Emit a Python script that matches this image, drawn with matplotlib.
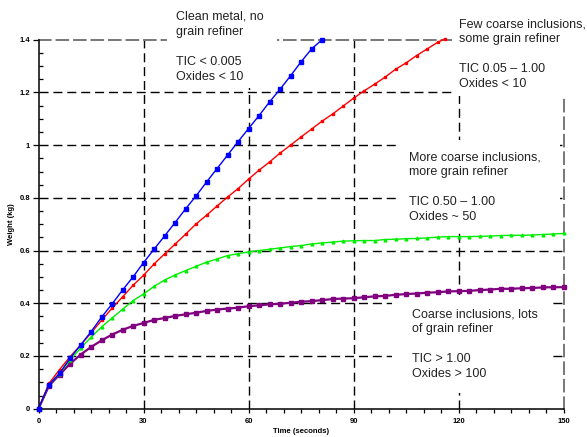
import numpy as np
import matplotlib
matplotlib.use("Agg")
import matplotlib.pyplot as plt
from matplotlib.patches import Rectangle
from matplotlib.ticker import MultipleLocator

plt.rcParams["font.family"] = ["Liberation Sans", "DejaVu Sans"]

# time axis (s), one reading every 3 s
t_blue = [0, 3, 6, 9, 12, 15, 18, 21, 24, 27, 30, 33, 36, 39, 42, 45, 48, 51, 54, 57,
          60, 63, 66, 69, 72, 75, 78, 81]
w_blue = [0, 0.091, 0.134, 0.191, 0.241, 0.292, 0.347, 0.397, 0.450, 0.500, 0.554, 0.605,
          0.655, 0.706, 0.758, 0.807, 0.860, 0.911, 0.962, 1.013, 1.063, 1.112, 1.164,
          1.212, 1.263, 1.316, 1.365, 1.400]

t_red = [0, 3, 6, 9, 12, 15, 18, 21, 24, 27, 30, 33, 36, 39, 42, 45, 48, 51, 54, 57, 60,
         63, 66, 69, 72, 75, 78, 81, 84, 87, 90, 93, 96, 99, 102, 105, 108, 111, 114, 116]
w_red = [0, 0.096, 0.148, 0.197, 0.241, 0.287, 0.335, 0.381, 0.424, 0.468, 0.506, 0.549,
         0.587, 0.624, 0.662, 0.701, 0.734, 0.769, 0.803, 0.835, 0.871, 0.905, 0.936,
         0.970, 1.000, 1.031, 1.061, 1.091, 1.118, 1.148, 1.178, 1.206, 1.231, 1.258,
         1.288, 1.312, 1.340, 1.365, 1.390, 1.403]

t_full = list(range(0, 151, 3))
w_green = [0, 0.091, 0.133, 0.184, 0.229, 0.271, 0.310, 0.344, 0.377, 0.410, 0.435, 0.464,
           0.488, 0.507, 0.524, 0.540, 0.556, 0.568, 0.581, 0.588, 0.595, 0.600, 0.605,
           0.610, 0.615, 0.619, 0.625, 0.629, 0.632, 0.636, 0.637, 0.638, 0.638, 0.642,
           0.643, 0.645, 0.646, 0.648, 0.651, 0.653, 0.653, 0.653, 0.654, 0.655, 0.657,
           0.658, 0.658, 0.659, 0.661, 0.663, 0.665]
w_purple = [0, 0.087, 0.129, 0.170, 0.205, 0.234, 0.259, 0.281, 0.299, 0.314, 0.325, 0.337,
            0.344, 0.352, 0.358, 0.364, 0.371, 0.376, 0.380, 0.383, 0.389, 0.392, 0.396,
            0.398, 0.402, 0.406, 0.408, 0.412, 0.416, 0.418, 0.419, 0.423, 0.426, 0.428,
            0.432, 0.435, 0.437, 0.440, 0.442, 0.445, 0.446, 0.447, 0.450, 0.452, 0.455,
            0.455, 0.457, 0.458, 0.460, 0.461, 0.461]

x_ticks = [0, 30, 60, 90, 120, 150]
y_ticks = [0, 0.2, 0.4, 0.6, 0.8, 1.0, 1.2, 1.4]
y_labels = ["0", "0.2", "0.4", "0.6", "0.8", "1", "1.2", "1.4"]

notes = [
    "Clean metal, no\ngrain refiner\n\nTIC < 0.005\nOxides < 10",
    "Few coarse inclusions,\nsome grain refiner\n\nTIC 0.05 \u2013 1.00\nOxides < 10",
    "More coarse inclusions,\nmore grain refiner\n\nTIC 0.50 \u2013 1.00\nOxides ~ 50",
    "Coarse inclusions, lots\nof grain refiner\n\nTIC > 1.00\nOxides > 100",
]
# (text x, text top, box x0, box y0, box x1, box y1) in axes fraction
note_pos = [
    (0.262, 1.078, 0.245, 0.869, 0.454, 1.11),
    (0.801, 1.059, 0.788, 0.848, 1.05, 1.11),
    (0.706, 0.698, 0.689, 0.476, 0.993, 0.728),
    (0.711, 0.272, 0.673, 0.043, 0.972, 0.308),
]

fig = plt.figure(figsize=(5.87, 4.37), dpi=100)
ax = fig.add_axes([0.0656, 0.0648, 0.8944, 0.8442])

dash = (0, (6.5, 3.5))
for gx in x_ticks[1:-1]:
    ax.axvline(gx, color="k", lw=1.0, ls=dash, zorder=1)
for gy in y_ticks[1:-1]:
    ax.axhline(gy, color="k", lw=1.0, ls=dash, zorder=1)

ax.plot(t_full, w_purple, "-s", color="#800080", lw=1.6, ms=2.4, zorder=4, clip_on=False)
ax.plot(t_full, w_green, "-^", color="#00ee00", lw=1.0, ms=2.0, zorder=5, clip_on=False)
ax.plot(t_red, w_red, "-s", color="#ff0000", lw=1.0, ms=2.0, zorder=6, clip_on=False)
ax.plot(t_blue, w_blue, "-s", color="#0000ff", lw=1.0, ms=2.5, zorder=7, clip_on=False)

for s, (tx, ty, x0, y0, x1, y1) in zip(notes, note_pos):
    ax.add_patch(Rectangle((x0, y0), x1 - x0, y1 - y0, transform=ax.transAxes,
                           facecolor="white", edgecolor="none", zorder=3, clip_on=False))
    ax.text(tx, ty, s, transform=ax.transAxes, ha="left", va="top", fontsize=9,
            color="#222222", linespacing=1.32, zorder=8)

ax.set_xlim(0, 150)
ax.set_ylim(0, 1.4)
ax.set_xticks(x_ticks)
ax.set_yticks(y_ticks)
ax.set_yticklabels(y_labels)
ax.xaxis.set_minor_locator(MultipleLocator(5))
ax.yaxis.set_minor_locator(MultipleLocator(0.05))
ax.tick_params(axis="x", which="major", direction="out", length=3, width=0.9,
               labelsize=5.5, pad=4)
ax.tick_params(axis="x", which="minor", direction="out", length=3, width=0.9)
ax.tick_params(axis="y", which="major", direction="out", length=4, width=0.9,
               labelsize=5.5, pad=2)
ax.tick_params(axis="y", which="minor", direction="in", length=3, width=0.9)
for lab in ax.get_xticklabels() + ax.get_yticklabels():
    lab.set_fontweight("bold")

for side in ["left", "bottom"]:
    ax.spines[side].set_linewidth(1.1)
    ax.spines[side].set_zorder(6)
for side in ["top", "right"]:
    ax.spines[side].set_color("#777777")
    ax.spines[side].set_linewidth(1.4)
    ax.spines[side].set_linestyle((0, (6, 3)))
    ax.spines[side].set_zorder(2)

ax.set_xlabel("Time (seconds)", fontsize=5.5, fontweight="bold", labelpad=2)
ax.set_ylabel("Weight (kg)", fontsize=5.5, fontweight="bold", labelpad=3)

fig.savefig("out.png", dpi=100)
